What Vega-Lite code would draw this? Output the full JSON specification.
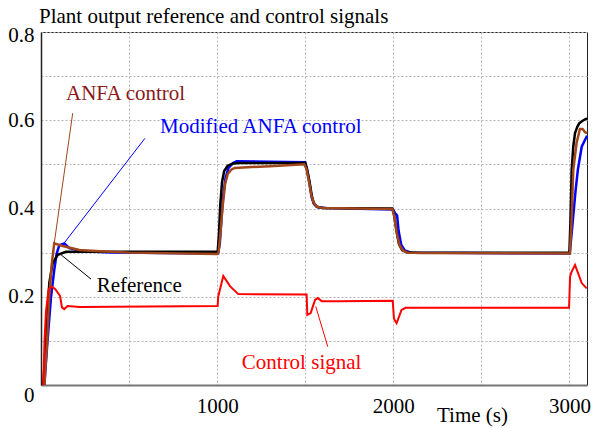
{
  "$schema": "https://vega.github.io/schema/vega-lite/v6.json",
  "width": 546,
  "height": 353,
  "autosize": {"type": "none"},
  "padding": {"left": 41, "top": 32, "right": 5, "bottom": 43},
  "background": "white",
  "config": {
    "view": {"stroke": "#222", "strokeWidth": 1},
    "font": "Liberation Serif"
  },
  "title": {
    "text": "Plant output reference and control signals",
    "anchor": "start",
    "frame": "group",
    "offset": 12,
    "baseline": "alphabetic",
    "dx": -2,
    "dy": 32,
    "fontSize": 21,
    "font": "Liberation Serif",
    "fontWeight": "normal",
    "color": "black"
  },
  "datasets": {
    "lines": [
      {"s": "ref", "t": 13, "v": 0}, {"s": "ref", "t": 38, "v": 0.163}, {"s": "ref", "t": 47, "v": 0.231}, {"s": "ref", "t": 66, "v": 0.276}, {"s": "ref", "t": 95, "v": 0.295}, {"s": "ref", "t": 142, "v": 0.302}, {"s": "ref", "t": 250, "v": 0.302}, {"s": "ref", "t": 1003, "v": 0.302}, {"s": "ref", "t": 1010, "v": 0.34}, {"s": "ref", "t": 1018, "v": 0.41}, {"s": "ref", "t": 1028, "v": 0.46}, {"s": "ref", "t": 1040, "v": 0.485}, {"s": "ref", "t": 1060, "v": 0.497}, {"s": "ref", "t": 1090, "v": 0.502}, {"s": "ref", "t": 1130, "v": 0.503}, {"s": "ref", "t": 1500, "v": 0.503}, {"s": "ref", "t": 1510, "v": 0.49}, {"s": "ref", "t": 1525, "v": 0.46}, {"s": "ref", "t": 1537, "v": 0.43}, {"s": "ref", "t": 1548, "v": 0.413}, {"s": "ref", "t": 1565, "v": 0.404}, {"s": "ref", "t": 1600, "v": 0.401}, {"s": "ref", "t": 1995, "v": 0.4}, {"s": "ref", "t": 2005, "v": 0.385}, {"s": "ref", "t": 2018, "v": 0.35}, {"s": "ref", "t": 2032, "v": 0.32}, {"s": "ref", "t": 2050, "v": 0.306}, {"s": "ref", "t": 2075, "v": 0.301}, {"s": "ref", "t": 2150, "v": 0.3}, {"s": "ref", "t": 3000, "v": 0.3}, {"s": "ref", "t": 3006, "v": 0.37}, {"s": "ref", "t": 3013, "v": 0.4875}, {"s": "ref", "t": 3022, "v": 0.54}, {"s": "ref", "t": 3032, "v": 0.571}, {"s": "ref", "t": 3045, "v": 0.585}, {"s": "ref", "t": 3056, "v": 0.593}, {"s": "ref", "t": 3075, "v": 0.599}, {"s": "ref", "t": 3100, "v": 0.604},

      {"s": "mod", "t": 19, "v": 0}, {"s": "mod", "t": 35, "v": 0.09}, {"s": "mod", "t": 57, "v": 0.2}, {"s": "mod", "t": 75, "v": 0.26}, {"s": "mod", "t": 89, "v": 0.298}, {"s": "mod", "t": 104, "v": 0.317}, {"s": "mod", "t": 132, "v": 0.321}, {"s": "mod", "t": 161, "v": 0.31}, {"s": "mod", "t": 237, "v": 0.303}, {"s": "mod", "t": 400, "v": 0.3}, {"s": "mod", "t": 1005, "v": 0.298}, {"s": "mod", "t": 1015, "v": 0.32}, {"s": "mod", "t": 1025, "v": 0.38}, {"s": "mod", "t": 1035, "v": 0.43}, {"s": "mod", "t": 1048, "v": 0.47}, {"s": "mod", "t": 1065, "v": 0.492}, {"s": "mod", "t": 1090, "v": 0.503}, {"s": "mod", "t": 1111, "v": 0.507}, {"s": "mod", "t": 1300, "v": 0.506}, {"s": "mod", "t": 1500, "v": 0.505}, {"s": "mod", "t": 1512, "v": 0.485}, {"s": "mod", "t": 1525, "v": 0.455}, {"s": "mod", "t": 1537, "v": 0.425}, {"s": "mod", "t": 1550, "v": 0.41}, {"s": "mod", "t": 1570, "v": 0.403}, {"s": "mod", "t": 1620, "v": 0.401}, {"s": "mod", "t": 1998, "v": 0.398}, {"s": "mod", "t": 2010, "v": 0.39}, {"s": "mod", "t": 2022, "v": 0.384}, {"s": "mod", "t": 2030, "v": 0.35}, {"s": "mod", "t": 2045, "v": 0.318}, {"s": "mod", "t": 2065, "v": 0.305}, {"s": "mod", "t": 2100, "v": 0.3}, {"s": "mod", "t": 3002, "v": 0.298}, {"s": "mod", "t": 3019, "v": 0.37}, {"s": "mod", "t": 3035, "v": 0.44}, {"s": "mod", "t": 3048, "v": 0.4875}, {"s": "mod", "t": 3070, "v": 0.54}, {"s": "mod", "t": 3100, "v": 0.565},

      {"s": "anfa", "t": 19, "v": 0}, {"s": "anfa", "t": 35, "v": 0.1}, {"s": "anfa", "t": 47, "v": 0.2}, {"s": "anfa", "t": 60, "v": 0.27}, {"s": "anfa", "t": 75, "v": 0.321}, {"s": "anfa", "t": 123, "v": 0.315}, {"s": "anfa", "t": 218, "v": 0.306}, {"s": "anfa", "t": 335, "v": 0.303}, {"s": "anfa", "t": 500, "v": 0.3}, {"s": "anfa", "t": 1000, "v": 0.297}, {"s": "anfa", "t": 1008, "v": 0.3}, {"s": "anfa", "t": 1018, "v": 0.34}, {"s": "anfa", "t": 1030, "v": 0.4}, {"s": "anfa", "t": 1045, "v": 0.455}, {"s": "anfa", "t": 1060, "v": 0.478}, {"s": "anfa", "t": 1080, "v": 0.488}, {"s": "anfa", "t": 1100, "v": 0.492}, {"s": "anfa", "t": 1300, "v": 0.496}, {"s": "anfa", "t": 1495, "v": 0.5}, {"s": "anfa", "t": 1507, "v": 0.49}, {"s": "anfa", "t": 1522, "v": 0.46}, {"s": "anfa", "t": 1535, "v": 0.43}, {"s": "anfa", "t": 1548, "v": 0.413}, {"s": "anfa", "t": 1565, "v": 0.404}, {"s": "anfa", "t": 1600, "v": 0.401}, {"s": "anfa", "t": 1995, "v": 0.399}, {"s": "anfa", "t": 2007, "v": 0.38}, {"s": "anfa", "t": 2020, "v": 0.345}, {"s": "anfa", "t": 2035, "v": 0.318}, {"s": "anfa", "t": 2055, "v": 0.305}, {"s": "anfa", "t": 2080, "v": 0.3}, {"s": "anfa", "t": 2150, "v": 0.299}, {"s": "anfa", "t": 3003, "v": 0.298}, {"s": "anfa", "t": 3012, "v": 0.37}, {"s": "anfa", "t": 3022, "v": 0.4875}, {"s": "anfa", "t": 3041, "v": 0.549}, {"s": "anfa", "t": 3060, "v": 0.58}, {"s": "anfa", "t": 3075, "v": 0.58}, {"s": "anfa", "t": 3089, "v": 0.573}, {"s": "anfa", "t": 3100, "v": 0.571},

      {"s": "ctrl", "t": 13, "v": 0}, {"s": "ctrl", "t": 20, "v": 0.1}, {"s": "ctrl", "t": 28, "v": 0.165}, {"s": "ctrl", "t": 43, "v": 0.217}, {"s": "ctrl", "t": 62, "v": 0.223}, {"s": "ctrl", "t": 81, "v": 0.217}, {"s": "ctrl", "t": 108, "v": 0.202}, {"s": "ctrl", "t": 119, "v": 0.176}, {"s": "ctrl", "t": 132, "v": 0.172}, {"s": "ctrl", "t": 151, "v": 0.179}, {"s": "ctrl", "t": 218, "v": 0.177}, {"s": "ctrl", "t": 1003, "v": 0.179}, {"s": "ctrl", "t": 1006, "v": 0.2}, {"s": "ctrl", "t": 1035, "v": 0.247}, {"s": "ctrl", "t": 1073, "v": 0.224}, {"s": "ctrl", "t": 1120, "v": 0.206}, {"s": "ctrl", "t": 1508, "v": 0.205}, {"s": "ctrl", "t": 1512, "v": 0.159}, {"s": "ctrl", "t": 1531, "v": 0.163}, {"s": "ctrl", "t": 1556, "v": 0.193}, {"s": "ctrl", "t": 1571, "v": 0.197}, {"s": "ctrl", "t": 1594, "v": 0.19}, {"s": "ctrl", "t": 1700, "v": 0.19}, {"s": "ctrl", "t": 1997, "v": 0.191}, {"s": "ctrl", "t": 2004, "v": 0.15}, {"s": "ctrl", "t": 2019, "v": 0.14}, {"s": "ctrl", "t": 2047, "v": 0.17}, {"s": "ctrl", "t": 2070, "v": 0.175}, {"s": "ctrl", "t": 2998, "v": 0.175}, {"s": "ctrl", "t": 3004, "v": 0.246}, {"s": "ctrl", "t": 3013, "v": 0.257}, {"s": "ctrl", "t": 3032, "v": 0.272}, {"s": "ctrl", "t": 3070, "v": 0.231}, {"s": "ctrl", "t": 3098, "v": 0.219}
    ],
    "labels": [
      {"label": "ANFA control", "t": 142, "v": 0.646, "c": "#8b1a1a"},
      {"label": "Modified ANFA control", "t": 676, "v": 0.571, "c": "#0000ff"},
      {"label": "Reference", "t": 316, "v": 0.2116, "c": "#000000"},
      {"label": "Control signal", "t": 1140, "v": 0.036, "c": "#ff0000"}
    ],
    "leaders": [
      {"t": 180, "v": 0.616, "t2": 75, "v2": 0.321, "c": "#a0461a"},
      {"t": 590, "v": 0.559, "t2": 132, "v2": 0.322, "c": "#0000ff"},
      {"t": 284, "v": 0.24, "t2": 114, "v2": 0.295, "c": "#000000"},
      {"t": 1628, "v": 0.087, "t2": 1560, "v2": 0.178, "c": "#ff0000"}
    ]
  },
  "encoding": {
    "x": {
      "field": "t",
      "type": "quantitative",
      "scale": {"domain": [0, 3100], "nice": false, "zero": false},
      "axis": {
        "values": [0, 500, 1000, 1500, 2000, 2500, 3000],
        "format": "d",
        "labelExpr": "datum.value >= 1000 && datum.value % 1000 === 0 ? datum.label : ''",
        "labelFlush": false,
        "labelFont": "Liberation Serif",
        "labelFontSize": 21,
        "labelColor": "black",
        "labelPadding": 10,
        "ticks": false,
        "grid": true,
        "gridColor": "#b5b5b5",
        "gridDash": [2, 2],
        "gridWidth": 1,
        "domainColor": "#777777",
        "domainWidth": 2,
        "title": "Time (s)",
        "titleX": 431,
        "titleY": 36,
        "titleAlign": "center",
        "titleBaseline": "alphabetic",
        "titleFont": "Liberation Serif",
        "titleFontSize": 21,
        "titleFontWeight": "normal",
        "titleColor": "black"
      }
    },
    "y": {
      "field": "v",
      "type": "quantitative",
      "scale": {"domain": [0, 0.8], "nice": false},
      "axis": {
        "values": [0, 0.1, 0.2, 0.3, 0.4, 0.5, 0.6, 0.7, 0.8],
        "format": "~g",
        "labelExpr": "round(datum.value * 10) % 2 === 0 ? datum.label : ''",
        "labelOffset": {"condition": [{"test": "datum.value === 0", "value": 10}, {"test": "datum.value === 0.8", "value": 3}], "value": 0},
        "labelFont": "Liberation Serif",
        "labelFontSize": 21,
        "labelColor": "black",
        "labelPadding": 7,
        "ticks": false,
        "grid": true,
        "gridColor": "#b5b5b5",
        "gridDash": [2, 2],
        "gridWidth": 1,
        "domainColor": "#222222",
        "domainWidth": 1.5,
        "title": null
      }
    }
  },
  "layer": [
    {
      "data": {"name": "lines"},
      "transform": [{"filter": "datum.s === 'mod'"}],
      "mark": {"type": "line", "color": "#0000ff", "strokeWidth": 2.5}
    },
    {
      "data": {"name": "lines"},
      "transform": [{"filter": "datum.s === 'ref'"}],
      "mark": {"type": "line", "color": "#000000", "strokeWidth": 2.5}
    },
    {
      "data": {"name": "lines"},
      "transform": [{"filter": "datum.s === 'anfa'"}],
      "mark": {"type": "line", "color": "#a0461a", "strokeWidth": 2.5}
    },
    {
      "data": {"name": "lines"},
      "transform": [{"filter": "datum.s === 'ctrl'"}],
      "mark": {"type": "line", "color": "#ff0000", "strokeWidth": 2}
    },
    {
      "data": {"name": "leaders"},
      "mark": {"type": "rule", "strokeWidth": 1},
      "encoding": {
        "x2": {"field": "t2"},
        "y2": {"field": "v2"},
        "color": {"field": "c", "type": "nominal", "scale": null}
      }
    },
    {
      "data": {"name": "labels"},
      "mark": {"type": "text", "align": "left", "baseline": "alphabetic", "font": "Liberation Serif", "fontSize": 21},
      "encoding": {
        "text": {"field": "label"},
        "color": {"field": "c", "type": "nominal", "scale": null}
      }
    }
  ]
}
